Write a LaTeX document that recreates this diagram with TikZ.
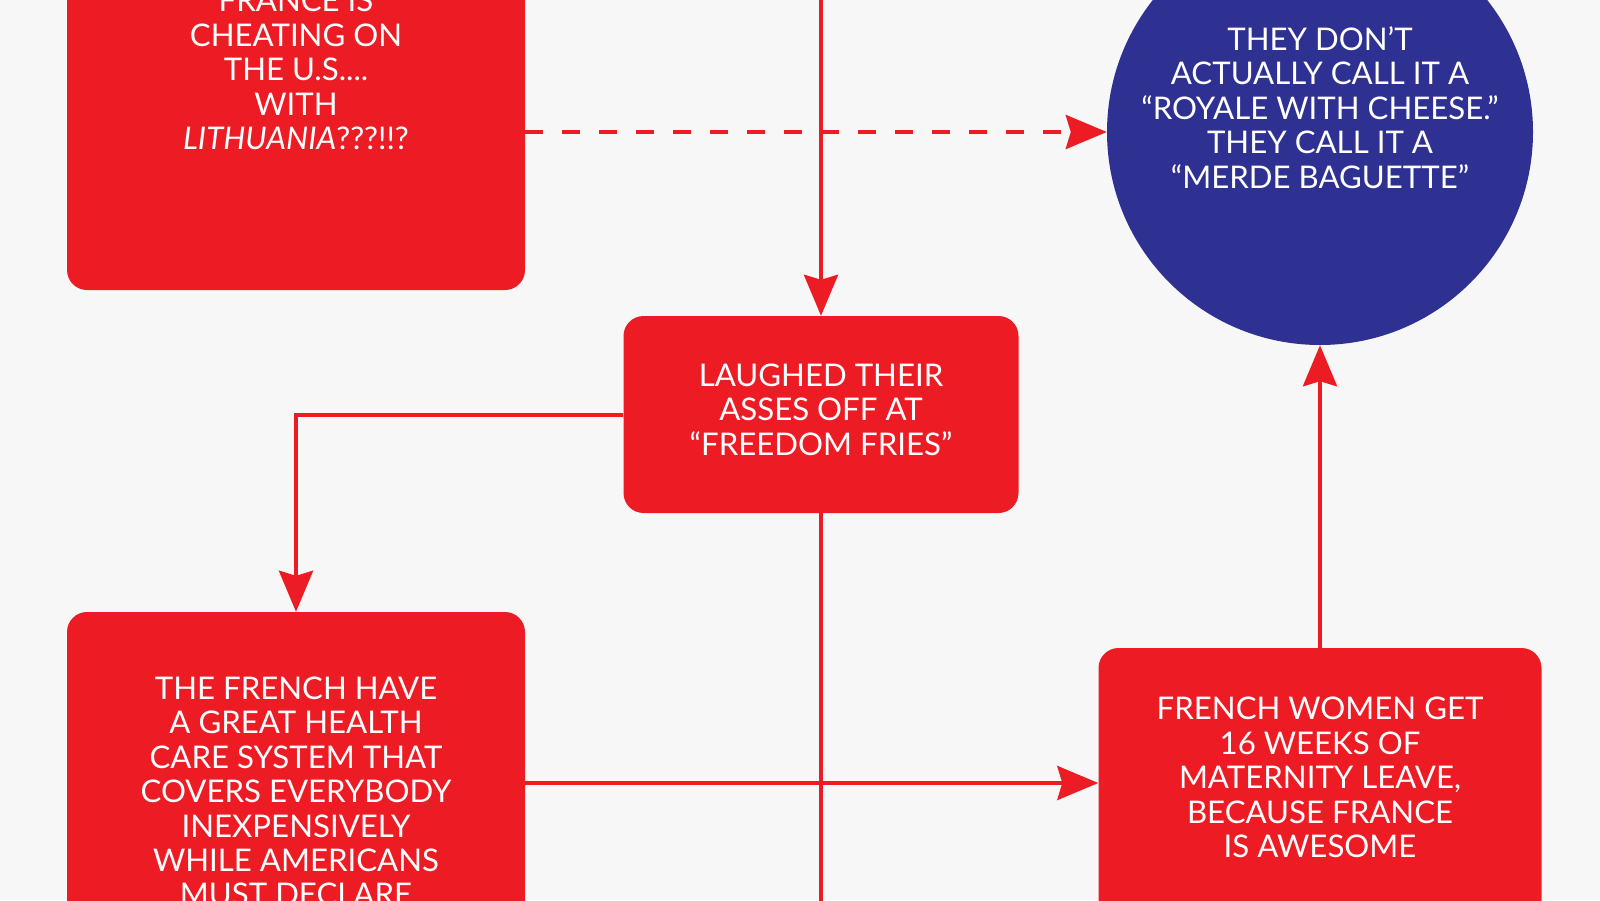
\documentclass[tikz,border=0pt]{standalone}
\usepackage{fontspec}
\setmainfont{Lato}
\usetikzlibrary{arrows.meta}
\definecolor{bg}{HTML}{F7F7F7}
\definecolor{fred}{HTML}{ED1C24}
\definecolor{fblue}{HTML}{2E3192}
\begin{document}
\begin{tikzpicture}[x=1pt,y=-1pt,
  box/.style={fill=fred, draw=none, rounded corners=20pt, inner sep=0pt},
  txt/.style={text=white, align=center, inner sep=0pt, font=\fontsize{31.2}{34.4}\selectfont},
  conn/.style={draw=fred, line width=4pt},
  tip/.style={-{Stealth[length=41pt,width=34pt,inset=5pt]}},
  dashline/.style={dash pattern=on 18pt off 19pt}]
\useasboundingbox (0,0) rectangle (1600,900);
\clip (0,0) rectangle (1600,900);
\fill[bg] (0,0) rectangle (1600,900);

% shapes
\node[box, minimum width=458pt, minimum height=442pt] (tl) at (296,69) {};
\node[box, minimum width=395pt, minimum height=197pt] (mid) at (821,414.5) {};
\node[box, minimum width=458pt, minimum height=500pt] (bl) at (296,862) {};
\node[box, minimum width=443pt, minimum height=280pt] (br) at (1320,788) {};
\node[circle, fill=fblue, draw=none, inner sep=0pt, minimum size=426pt] (circ) at (1320,132) {};

% texts
\node[txt] (tltext) at (296,69.5) {FRANCE IS\\CHEATING ON\\THE U.S....\\WITH\\\textit{LITHUANIA}???!!?};
\node[txt] (circtext) at (1320,107.5) {THEY DON’T\\ACTUALLY CALL IT A\\“ROYALE WITH CHEESE.”\\THEY CALL IT A\\“MERDE BAGUETTE”};
\node[txt] (midtext) at (821,409.5) {LAUGHED THEIR\\ASSES OFF AT\\“FREEDOM FRIES”};
\node[txt] (bltext) at (296,791.5) {THE FRENCH HAVE\\A GREAT HEALTH\\CARE SYSTEM THAT\\COVERS EVERYBODY\\INEXPENSIVELY\\WHILE AMERICANS\\MUST DECLARE};
\node[txt] (brtext) at (1320,777.5) {FRENCH WOMEN GET\\16 WEEKS OF\\MATERNITY LEAVE,\\BECAUSE FRANCE\\IS AWESOME};

% connectors
\coordinate (topin) at (821,-20);
\coordinate (botout) at (821,930);
\coordinate (hy) at (0,783);
\draw[conn,tip] (topin) -- (mid.north);
\draw[conn,dashline,tip] (tl.east |- circ.west) -- (circ.west);
\draw[conn,tip] (mid.west) -| (bl.north);
\draw[conn] (mid.south) -- (botout);
\draw[conn,tip] (bl.east |- hy) -- (br.west |- hy);
\draw[conn,tip] (br.north -| circ.south) -- (circ.south);
\end{tikzpicture}
\end{document}
